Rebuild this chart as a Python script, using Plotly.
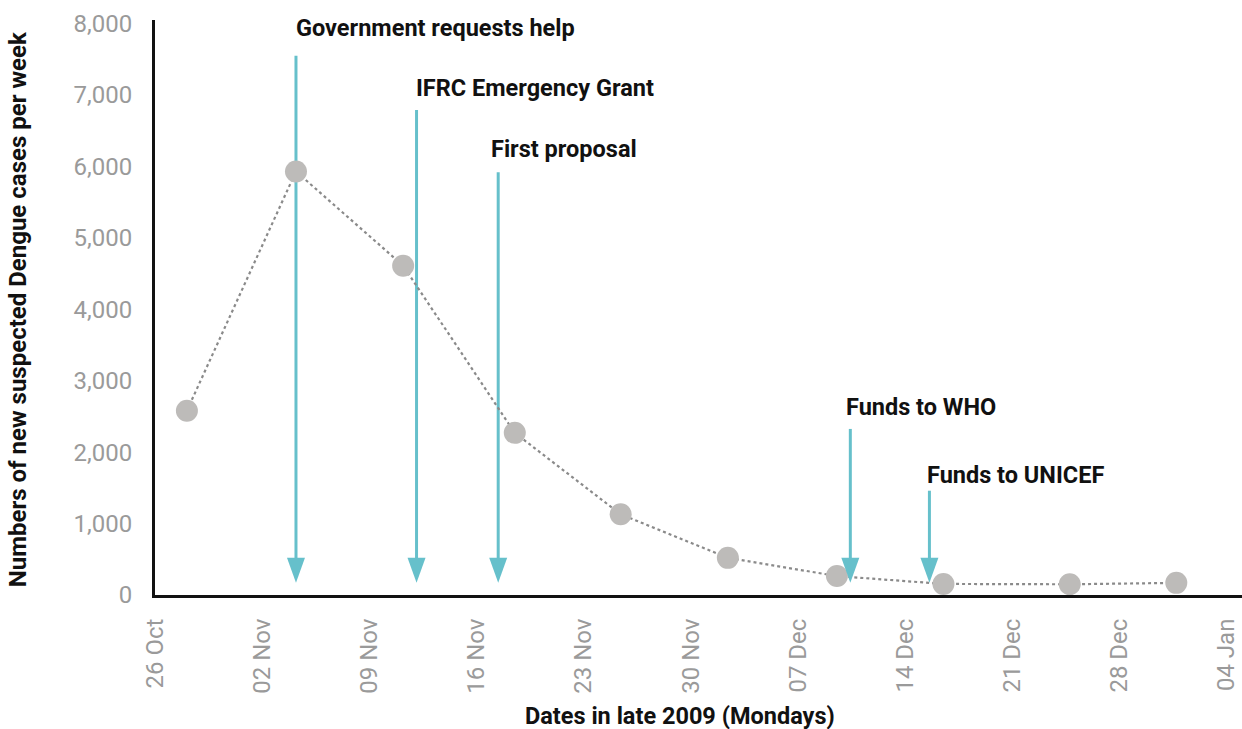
import plotly.graph_objects as go

# Weekly dengue cases
dates = ["2009-10-28 02:00", "2009-11-04 05:00", "2009-11-11 05:00", "2009-11-18 12:00",
         "2009-11-25 10:00", "2009-12-02 10:00", "2009-12-09 13:00", "2009-12-16 12:00",
         "2009-12-24 18:00", "2009-12-31 17:00"]
cases = [2580, 5930, 4610, 2270, 1130, 520, 265, 155, 150, 170]

# Events (arrows)
event_labels = ["Government requests help", "IFRC Emergency Grant", "First proposal",
                "Funds to WHO", "Funds to UNICEF"]
event_dates = ["2009-11-04 05:00", "2009-11-12 02:00", "2009-11-17 10:00",
               "2009-12-10 10:00", "2009-12-15 14:00"]
event_top = [7550, 6790, 5920, 2325, 1460]
event_tip = [172, 172, 172, 172, 172]

tick0 = "2009-10-26"

TEAL = "#66c0cb"
FONT = "Roboto"

fig = go.Figure()

fig.add_trace(go.Scatter(
    x=dates, y=cases, mode="lines+markers",
    line=dict(color="#8a8a8a", width=2.2, dash="dot"),
    marker=dict(size=22, color="#bdbbb9"),
    showlegend=False, hoverinfo="x+y",
))

label_shift = [28, 22, 23, 22, 16]
label_xshift = [-2, -3, -9, -6, -4]
for lab, d, top, tip, ys, xs in zip(event_labels, event_dates, event_top, event_tip,
                                    label_shift, label_xshift):
    fig.add_shape(type="line", xref="x", yref="y", x0=d, x1=d, y0=top, y1=tip + 300,
                  line=dict(color=TEAL, width=3), layer="below")
    fig.add_shape(type="path", xref="x", yref="y", xsizemode="pixel", ysizemode="pixel",
                  xanchor=d, yanchor=tip, path="M-9,25 L9,25 L0,0 Z",
                  fillcolor=TEAL, line=dict(width=0), layer="above")
    fig.add_annotation(x=d, y=top, text=lab, showarrow=False, xanchor="left",
                       yanchor="middle", yshift=ys, xshift=xs,
                       font=dict(family=FONT, size=23.5, color="#111111", weight=700))

# axis titles
fig.add_annotation(xref="paper", yref="paper", x=0.483, y=0, yshift=-121,
                   text="Dates in late 2009 (Mondays)", showarrow=False,
                   xanchor="center", yanchor="middle",
                   font=dict(family=FONT, size=23.5, color="#111111", weight=700))
fig.add_annotation(xref="paper", yref="paper", x=0, xshift=-137, y=0.497,
                   text="Numbers of new suspected Dengue cases per week", showarrow=False,
                   textangle=-90, xanchor="center", yanchor="middle",
                   font=dict(family=FONT, size=24, color="#111111", weight=700))

fig.update_layout(
    width=1242, height=729,
    margin=dict(l=155, r=0, t=20, b=134),
    plot_bgcolor="white", paper_bgcolor="white",
    font=dict(family=FONT),
    showlegend=False,
)

fig.update_xaxes(
    type="date", range=["2009-10-26", "2010-01-05"],
    tick0=tick0, dtick=7 * 86400000, tickformat="%d %b", tickangle=-90,
    showgrid=False, zeroline=False,
    showline=True, linecolor="#111111", linewidth=3,
    ticks="", ticklabelstandoff=11,
    tickfont=dict(family=FONT, size=24, color="#9a9a9a"),
)
fig.update_yaxes(
    range=[0, 8050], tickvals=[0, 1000, 2000, 3000, 4000, 5000, 6000, 7000, 8000],
    tickformat=",d", showgrid=False, zeroline=False,
    showline=True, linecolor="#111111", linewidth=3,
    ticks="", ticklabelstandoff=15,
    tickfont=dict(family=FONT, size=24, color="#9a9a9a"),
)

fig.write_html("out.html")
